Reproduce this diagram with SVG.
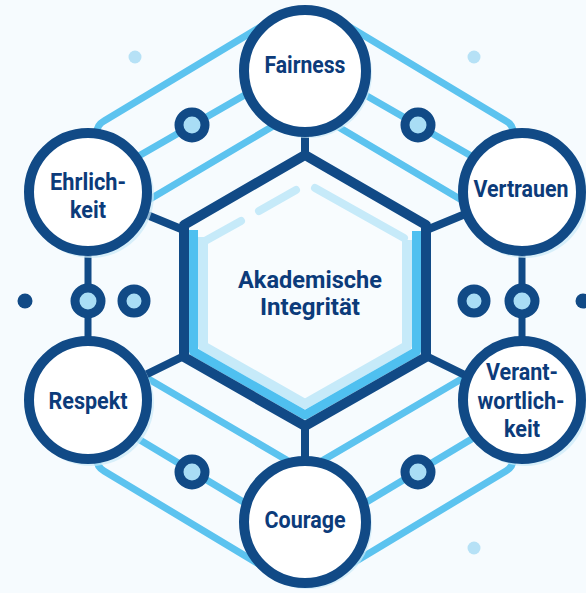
<svg xmlns="http://www.w3.org/2000/svg" width="586" height="593" viewBox="0 0 586 593">
<style>
.bg{fill:#f6fbfe}
.wire{fill:none;stroke:#5cc3ef;stroke-width:7;stroke-linecap:round;stroke-linejoin:round}
.stem{fill:none;stroke:#114a86;stroke-width:8;stroke-linecap:round}
.ring{fill:#a9ddf5;stroke:#114a86;stroke-width:9}
.dot{fill:#114a86}
.pale{fill:#b6e1f6}
.node circle.c{fill:#ffffff;stroke:#114a86;stroke-width:10}
.node circle.sh{fill:#cbe9f8;opacity:0.7}
.lbl{font-family:Roboto,"Liberation Sans",sans-serif;font-weight:700;font-size:23.5px;fill:#0c3b7a;text-anchor:middle}
</style>
<rect class="bg" x="0" y="0" width="586" height="593"/>
<!-- decorative dots -->
<circle class="pale" cx="135" cy="57" r="6.5"/>
<circle class="pale" cx="474" cy="57" r="6.5"/>
<circle class="pale" cx="474" cy="548" r="6.5"/>
<circle class="dot" cx="25" cy="301" r="7.5"/>
<circle class="dot" cx="583" cy="301" r="7.5"/>
<g id="connectors">
  <!-- top-left wires -->
  <path class="wire" d="M97 150 L97 132 Q97 125 104 121 L262 26"/>
  <path class="wire" d="M130 161 L250 92"/>
  <path class="wire" d="M140 205 L280 122"/>
  <!-- top-right wires -->
  <path class="wire" d="M513 150 L513 132 Q513 125 506 121 L348 26"/>
  <path class="wire" d="M480 161 L360 92"/>
  <path class="wire" d="M470 205 L330 122"/>
  <!-- bottom-left wires -->
  <path class="wire" d="M140 374 L290 462"/>
  <path class="wire" d="M130 434 L255 509"/>
  <path class="wire" d="M97 450 L97 460 Q97 467 104 471 L262 566"/>
  <!-- bottom-right wires -->
  <path class="wire" d="M470 374 L320 462"/>
  <path class="wire" d="M480 434 L355 509"/>
  <path class="wire" d="M513 450 L513 460 Q513 467 506 471 L348 566"/>
  <!-- stems to hexagon -->
  <path class="stem" d="M305 130 L305 156"/>
  <path class="stem" d="M135 210 L186 231"/>
  <path class="stem" d="M475 210 L424 231"/>
  <path class="stem" d="M135 380 L186 355"/>
  <path class="stem" d="M475 380 L424 355"/>
  <path class="stem" d="M305 424 L305 462"/>
  <!-- vertical links -->
  <path class="stem" d="M88 250 L88 345" style="stroke-width:7"/>
  <path class="stem" d="M522 250 L522 345" style="stroke-width:7"/>
  <!-- rings -->
  <circle class="ring" cx="192" cy="125" r="13"/>
  <circle class="ring" cx="418" cy="125" r="13"/>
  <circle class="ring" cx="192" cy="472" r="13"/>
  <circle class="ring" cx="418" cy="472" r="13"/>
  <circle class="ring" cx="88" cy="301" r="13"/>
  <circle class="ring" cx="134" cy="301" r="12"/>
  <circle class="ring" cx="522" cy="301" r="13"/>
  <circle class="ring" cx="474" cy="301" r="12"/>
</g>
<g id="center">
  <path d="M305 155 L426 225 L426 357 L305 426 L184 357 L184 225 Z" fill="#f8fcfe"/>
  <path d="M203 237 L203 346 L305 404 L407 346 L407 240" fill="none" stroke="#c6eaf9" stroke-width="10" stroke-linejoin="round"/>
  <path d="M193.5 230 L193.5 351.5 L305 415 L416.5 351.5 L416.5 231" fill="none" stroke="#4fc0f0" stroke-width="9" stroke-linejoin="round"/>
  <path d="M205 241 L241 221 M259 211 L296 190 M315 188 L404 238" fill="none" stroke="#c6eaf9" stroke-width="8" stroke-linecap="round"/>
  <path d="M305 155 L426 225 L426 357 L305 426 L184 357 L184 225 Z" fill="none" stroke="#114a86" stroke-width="10" stroke-linejoin="round"/>
  <text class="lbl" x="310" y="288" textLength="144" lengthAdjust="spacingAndGlyphs">Akademische</text>
  <text class="lbl" x="310" y="315" textLength="100" lengthAdjust="spacingAndGlyphs">Integrität</text>
</g>
<g id="fairness" class="node">
  <circle class="sh" cx="308" cy="74" r="64"/>
  <circle class="c" cx="305" cy="71" r="61"/>
  <text class="lbl" x="305" y="73" textLength="81" lengthAdjust="spacingAndGlyphs">Fairness</text>
</g>
<g id="ehrlichkeit" class="node">
  <circle class="sh" cx="91" cy="195" r="63"/>
  <circle class="c" cx="88" cy="192" r="59"/>
  <text class="lbl" x="88" y="190" textLength="76" lengthAdjust="spacingAndGlyphs">Ehrlich-</text>
  <text class="lbl" x="88" y="218" textLength="36" lengthAdjust="spacingAndGlyphs">keit</text>
</g>
<g id="vertrauen" class="node">
  <circle class="sh" cx="525" cy="195" r="63"/>
  <circle class="c" cx="522" cy="192" r="59"/>
  <text class="lbl" x="521" y="197" textLength="95" lengthAdjust="spacingAndGlyphs">Vertrauen</text>
</g>
<g id="respekt" class="node">
  <circle class="sh" cx="91" cy="403" r="63"/>
  <circle class="c" cx="88" cy="400" r="59"/>
  <text class="lbl" x="88" y="409" textLength="79" lengthAdjust="spacingAndGlyphs">Respekt</text>
</g>
<g id="verantwortlichkeit" class="node">
  <circle class="sh" cx="525" cy="403" r="63"/>
  <circle class="c" cx="522" cy="400" r="59"/>
  <text class="lbl" x="522" y="380" textLength="72" lengthAdjust="spacingAndGlyphs">Verant-</text>
  <text class="lbl" x="521" y="409" textLength="87" lengthAdjust="spacingAndGlyphs">wortlich-</text>
  <text class="lbl" x="522" y="437" textLength="36" lengthAdjust="spacingAndGlyphs">keit</text>
</g>
<g id="courage" class="node">
  <circle class="sh" cx="308" cy="525" r="64"/>
  <circle class="c" cx="305" cy="522" r="61"/>
  <text class="lbl" x="305" y="528" textLength="81" lengthAdjust="spacingAndGlyphs">Courage</text>
</g>
</svg>
